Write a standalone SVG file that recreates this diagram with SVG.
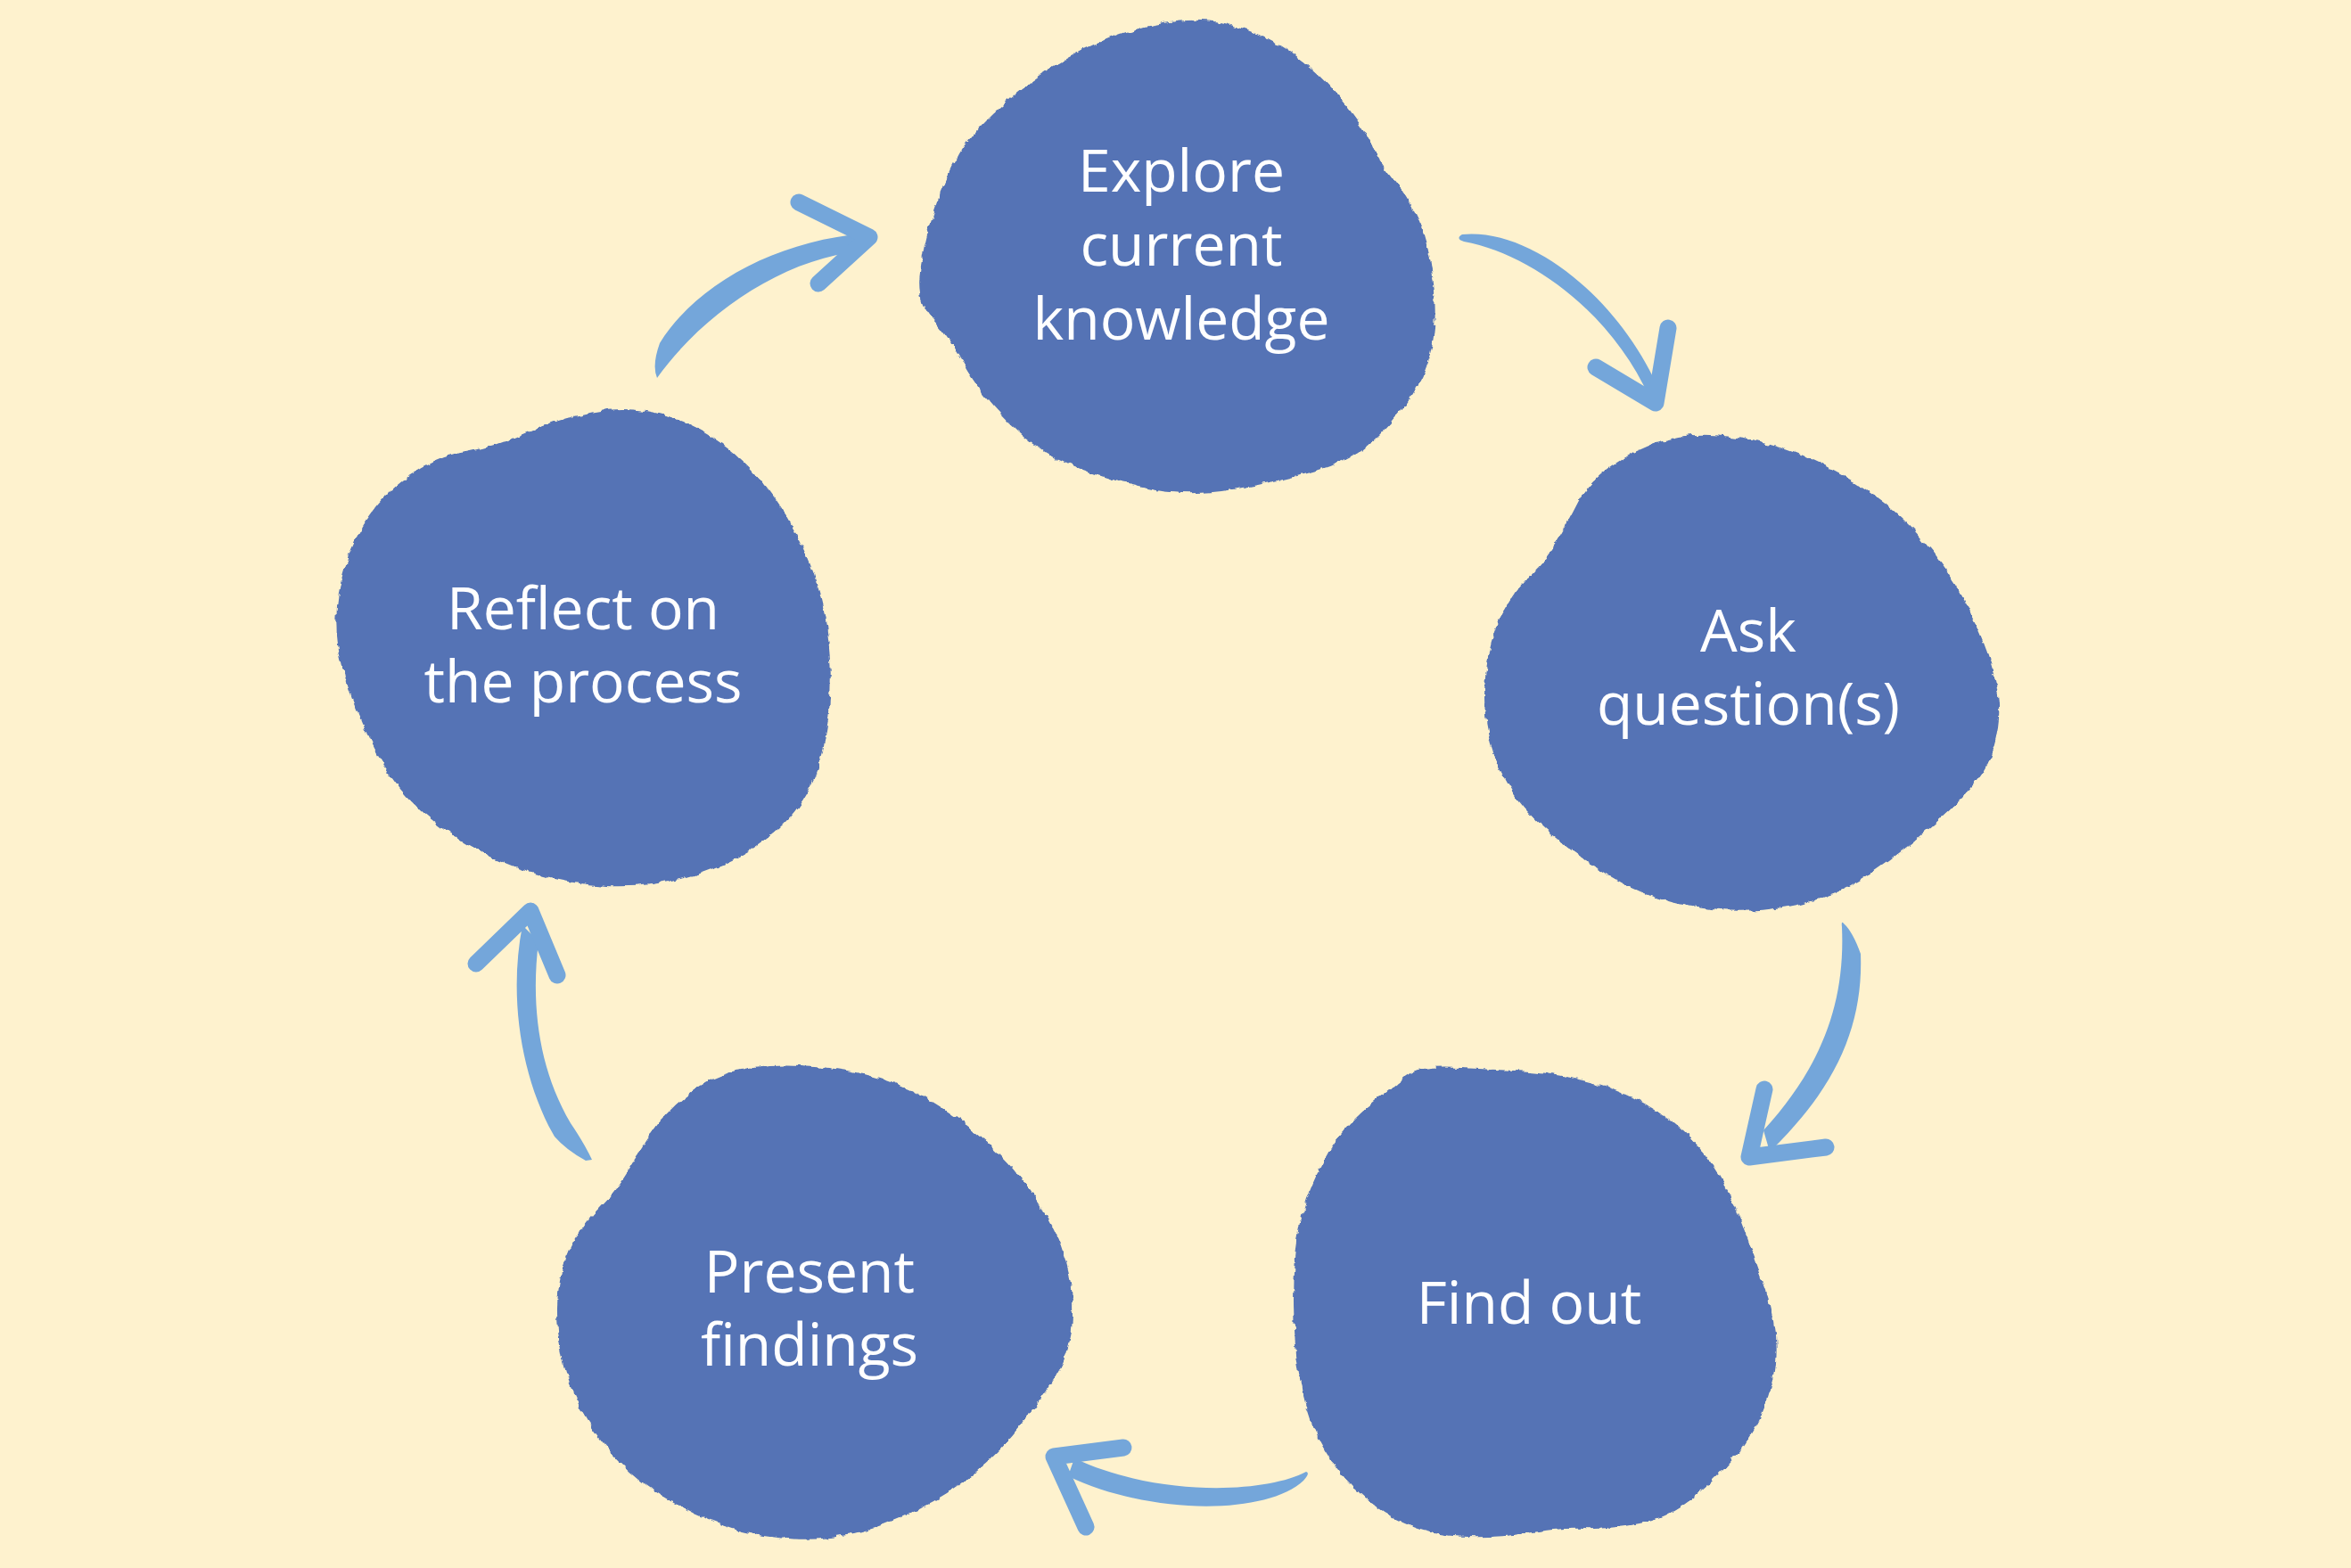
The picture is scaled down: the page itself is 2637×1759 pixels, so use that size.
<svg xmlns="http://www.w3.org/2000/svg" width="2637" height="1759" viewBox="0 0 2637 1759">
<defs>
<filter id="rough" x="-5%" y="-5%" width="110%" height="110%">
<feTurbulence type="fractalNoise" baseFrequency="0.08" numOctaves="3" seed="4" result="n"/>
<feDisplacementMap in="SourceGraphic" in2="n" scale="7" xChannelSelector="R" yChannelSelector="G"/>
</filter>
</defs>
<style>
.blob{fill:#5473B5;filter:url(#rough)}
.lbl{fill:#FFFFFF;font-family:"Open Sans","Liberation Sans",sans-serif;font-size:66px;text-anchor:middle}
.shaft{fill:#74A6DA}
.head{fill:none;stroke:#74A6DA;stroke-width:19;stroke-linecap:round;stroke-linejoin:round}
</style>
<rect width="2637" height="1759" fill="#FEF2CE"/>
<g id="connectors">
<g id="arrow1"><path class="shaft" d="M1640,263 C1720,255 1820,340 1862,440 L1850,446 C1810,355 1720,285 1642,271 Q1632,268 1640,263 Z"/><polyline class="head" points="1790,412 1857,452 1871,368"/></g>
<g id="arrow2"><path class="shaft" d="M2068,1036 Q2078,1045 2087,1070 C2090,1150 2060,1220 1985,1292 L1978,1268 C2040,1200 2070,1130 2066,1040 Q2065,1032 2068,1036 Z"/><polyline class="head" points="1979,1222 1962,1298 2048,1287"/></g>
<g id="arrow3"><path class="shaft" d="M1465,1651 C1420,1675 1300,1680 1205,1636 L1198,1656 C1290,1700 1420,1700 1462,1661 Q1470,1652 1465,1651 Z"/><polyline class="head" points="1260,1624 1182,1634 1218,1713"/></g>
<g id="arrow4"><path class="shaft" d="M664,1301 L657,1302 Q635,1290 622,1275 C585,1210 570,1120 586,1038 L604,1056 C595,1130 605,1200 640,1260 Q655,1282 664,1301 Z"/><polyline class="head" points="534,1081 595,1022 625,1094"/></g>
<g id="arrow5"><path class="shaft" d="M737,424 Q731,410 740,385 C780,320 870,270 970,262 L965,282 C880,290 790,350 737,424 Z"/><polyline class="head" points="896,227 975,266 918,318"/></g>
</g>
<g id="node-explore">
<path class="blob" d="M1385,29 Q1420,40 1450,60 Q1480,80 1507,114.5 Q1534,149 1539.5,164.5 Q1545,180 1568,208.5 Q1591,237 1601,277.5 Q1611,318 1609.5,359 Q1608,400 1591.5,430 Q1575,460 1547.5,487.5 Q1520,515 1478,527.5 Q1436,540 1386.5,548.5 Q1337,557 1297.5,550 Q1258,543 1212,526 Q1166,509 1132,474.5 Q1098,440 1080,407.5 Q1062,375 1045.5,357.5 Q1029,340 1031.5,310 Q1034,280 1047,240 Q1060,200 1076,172.5 Q1092,145 1132,111 Q1172,77 1215,55.5 Q1258,34 1304,26 Q1350,18 1385,29 Z"/>
<text class="lbl" x="1325" y="215">Explore</text>
<text class="lbl" x="1325" y="298">current</text>
<text class="lbl" x="1325" y="381">knowledge</text>
</g>
<g id="node-ask">
<path class="blob" d="M1967.5,494.5 Q2018,505 2068.5,534 Q2119,563 2152.5,601 Q2186,639 2207,681 Q2228,723 2236.5,756.5 Q2245,790 2241,815.5 Q2237,841 2228.5,858 Q2220,875 2199,896 Q2178,917 2148.5,942 Q2119,967 2085.5,988 Q2052,1009 2001.5,1017.5 Q1951,1026 1900.5,1017.5 Q1850,1009 1808,984 Q1766,959 1732.5,929.5 Q1699,900 1682,862 Q1665,824 1665,782 Q1665,740 1677.5,706.5 Q1690,673 1711,652 Q1732,631 1744.5,610 Q1757,589 1770,563.5 Q1783,538 1816.5,517 Q1850,496 1883.5,490 Q1917,484 1967.5,494.5 Z"/>
<text class="lbl" x="1961" y="731">Ask</text>
<text class="lbl" x="1961" y="813">question(s)</text>
</g>
<g id="node-findout">
<path class="blob" d="M1638.5,1198 Q1680,1200 1709,1201.5 Q1738,1203 1779.5,1213 Q1821,1223 1859,1247 Q1897,1271 1919.5,1305 Q1942,1339 1954.5,1375 Q1967,1411 1980,1447.5 Q1993,1484 1991.5,1520.5 Q1990,1557 1972.5,1593 Q1955,1629 1916.5,1665.5 Q1878,1702 1840,1709 Q1802,1716 1776,1715 Q1750,1714 1712,1720 Q1674,1726 1635.5,1723.5 Q1597,1721 1565.5,1704 Q1534,1687 1508.5,1658 Q1483,1629 1470,1593 Q1457,1557 1453,1508.5 Q1449,1460 1453,1411.5 Q1457,1363 1473,1326.5 Q1489,1290 1505,1271 Q1521,1252 1548,1230 Q1575,1208 1586,1202 Q1597,1196 1638.5,1198 Z"/>
<text class="lbl" x="1715" y="1485">Find out</text>
</g>
<g id="node-present">
<path class="blob" d="M950,1201 Q1009,1211 1059.5,1244.5 Q1110,1278 1143.5,1320 Q1177,1362 1189.5,1396 Q1202,1430 1203,1459 Q1204,1488 1199,1509 Q1194,1530 1177,1555.5 Q1160,1581 1135,1610.5 Q1110,1640 1076.5,1665 Q1043,1690 992.5,1709.5 Q942,1729 891.5,1726.5 Q841,1724 799,1707 Q757,1690 723.5,1665 Q690,1640 664.5,1602 Q639,1564 630.5,1522 Q622,1480 626.5,1446.5 Q631,1413 643.5,1392 Q656,1371 673,1354 Q690,1337 702.5,1316 Q715,1295 731.5,1270 Q748,1245 777.5,1223.5 Q807,1202 849,1196.5 Q891,1191 950,1201 Z"/>
<text class="lbl" x="908" y="1450">Present</text>
<text class="lbl" x="908" y="1532">findings</text>
</g>
<g id="node-reflect">
<path class="blob" d="M748,466.5 Q790,479 824,508.5 Q858,538 883,580 Q908,622 919,664 Q930,706 931.5,748 Q933,790 925,832.5 Q917,875 896,904 Q875,933 841,954 Q807,975 765,985.5 Q723,996 681,994 Q639,992 597,979.5 Q555,967 521.5,946 Q488,925 462.5,900 Q437,875 416,832.5 Q395,790 384,748 Q373,706 380,664 Q387,622 408,588.5 Q429,555 458.5,534 Q488,513 521.5,507 Q555,501 588.5,486 Q622,471 664,462.5 Q706,454 748,466.5 Z"/>
<text class="lbl" x="654" y="706">Reflect on</text>
<text class="lbl" x="654" y="788">the process</text>
</g>
</svg>
